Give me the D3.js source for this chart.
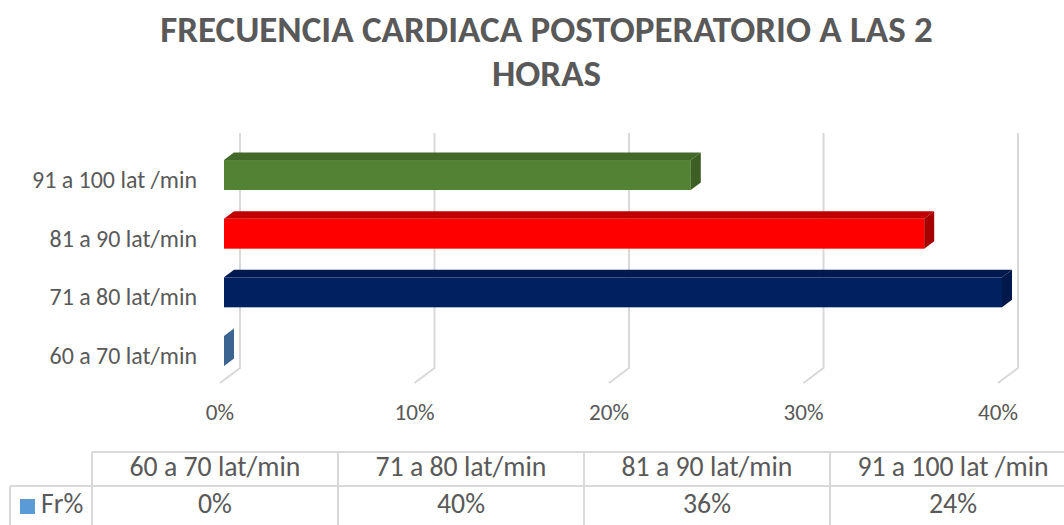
<!DOCTYPE html>
<html><head><meta charset="utf-8">
<script src="https://cdn.jsdelivr.net/npm/d3@7"></script>
<style>body{margin:0;background:#fff}svg{display:block}text{font-family:Carlito,Lato,sans-serif;fill:#595959}</style>
</head><body>
<svg id="c" width="1064" height="525"></svg>
<script>
const categories = ["60 a 70 lat/min","71 a 80 lat/min","81 a 90 lat/min","91 a 100 lat /min"];
const values = [0, 0.40, 0.36, 0.24];
const valueLabels = ["0%","40%","36%","24%"];
const tickValues = [0, 0.1, 0.2, 0.3, 0.4];
const seriesName = "Fr%";
const titleLines = ["FRECUENCIA CARDIACA POSTOPERATORIO A LAS 2","HORAS"];
const barColors = [
  {front:"#3b6490", top:"#2f5073", side:"#3b6490"},
  {front:"#002060", top:"#001a4f", side:"#00184a"},
  {front:"#ff0000", top:"#c00000", side:"#a60000"},
  {front:"#548235", top:"#43682a", side:"#3d5f26"}
];

const svg = d3.select("#c");

function fit(sel, target) {
  const w = sel.node().getComputedTextLength();
  const fs = parseFloat(sel.attr("font-size"));
  return fs * target / w;
}

// title
const tfs = (() => {
  const t = svg.append("text").attr("font-size", 100).attr("font-weight", "bold").text(titleLines[0]);
  const f = fit(t, 773); t.remove(); return f;
})();
svg.selectAll("text.title").data(titleLines).join("text").attr("class","title")
  .attr("x", 546.5).attr("y", (d,i) => 42 + i*44)
  .attr("text-anchor","middle").attr("font-weight","bold").attr("font-size", tfs).text(d => d);

// scales
const xBack = d3.scaleLinear().domain([0, 0.4]).range([240, 1018]);
const y = d3.scaleBand().domain(categories.slice().reverse()).range([145.7, 380.3]).paddingInner(0.4886).paddingOuter(0.2443);
const backTop = 133, backBottom = 368, floorDx = -20, floorDy = 15;
const barDx = 10, barDy = -7.5, frontShift = -16;

// gridlines
const g = svg.append("g");
g.selectAll("path.grid").data(tickValues).join("path").attr("class","grid")
  .attr("d", d => `M${xBack(d)},${backTop}V${backBottom}L${xBack(d)+floorDx},${backBottom+floorDy}`)
  .attr("fill","none").attr("stroke","#d9d9d9").attr("stroke-width",2);

// tick labels
const tickFs = (() => {
  const t = svg.append("text").attr("font-size", 100).text("40%");
  const f = fit(t, 40); t.remove(); return f;
})();
svg.selectAll("text.tick").data(tickValues).join("text").attr("class","tick")
  .attr("x", d => xBack(d) + floorDx).attr("y", 420).attr("text-anchor","middle")
  .attr("font-size", tickFs).text(d3.format(".0%"));

// bars
const bars = svg.append("g").selectAll("g").data(categories.map((c,i) => ({c, v: values[i], col: barColors[i]}))).join("g");
bars.each(function(d) {
  const gg = d3.select(this);
  const x0 = xBack(0) + frontShift, x1 = xBack(d.v) + frontShift;
  const y0 = y(d.c), h = y.bandwidth();
  if (x1 > x0) {
    gg.append("path").attr("d", `M${x0},${y0}L${x0+barDx},${y0+barDy}L${x1+barDx},${y0+barDy}L${x1},${y0}Z`).attr("fill", d.col.top);
    gg.append("rect").attr("x", x0).attr("y", y0).attr("width", x1-x0).attr("height", h).attr("fill", d.col.front);
  }
  gg.append("path").attr("d", `M${x1},${y0}L${x1+barDx},${y0+barDy}L${x1+barDx},${y0+h+barDy}L${x1},${y0+h}Z`).attr("fill", d.col.side);
});

// y labels
const yFs = (() => {
  const t = svg.append("text").attr("font-size", 100).text(categories[3]);
  const f = fit(t, 165); t.remove(); return f;
})();
svg.selectAll("text.ylab").data(categories).join("text").attr("class","ylab")
  .attr("x", 197).attr("y", d => y(d) + y.bandwidth()/2 + 13).attr("text-anchor","end")
  .attr("font-size", yFs).text(d => d);

// data table
const cols = d3.scaleBand().domain(categories).range([92, 1076]);
const tableFs = (() => {
  const t = svg.append("text").attr("font-size", 100).text(categories[0]);
  const f = fit(t, 171); t.remove(); return f;
})();
const tg = svg.append("g").attr("stroke","#d9d9d9").attr("stroke-width",2);
tg.append("line").attr("x1",92).attr("x2",1076).attr("y1",452).attr("y2",452);
tg.append("line").attr("x1",10).attr("x2",1076).attr("y1",486).attr("y2",486);
tg.append("line").attr("x1",10).attr("x2",10).attr("y1",486).attr("y2",526);
tg.selectAll("line.v").data(categories).join("line").attr("class","v")
  .attr("x1", d => cols(d)).attr("x2", d => cols(d)).attr("y1",452).attr("y2",526);
svg.selectAll("text.th").data(categories).join("text").attr("class","th")
  .attr("x", d => cols(d) + cols.bandwidth()/2).attr("y", 476).attr("text-anchor","middle")
  .attr("font-size", tableFs).text(d => d);
svg.selectAll("text.td").data(valueLabels).join("text").attr("class","td")
  .attr("x", (d,i) => cols(categories[i]) + cols.bandwidth()/2).attr("y", 513).attr("text-anchor","middle")
  .attr("font-size", tableFs).text(d => d);
svg.append("rect").attr("x",20).attr("y",499).attr("width",15).attr("height",15).attr("fill","#5b9bd5");
svg.append("text").attr("x",41).attr("y",513).attr("font-size", tableFs).text(seriesName);
</script>
</body></html>
